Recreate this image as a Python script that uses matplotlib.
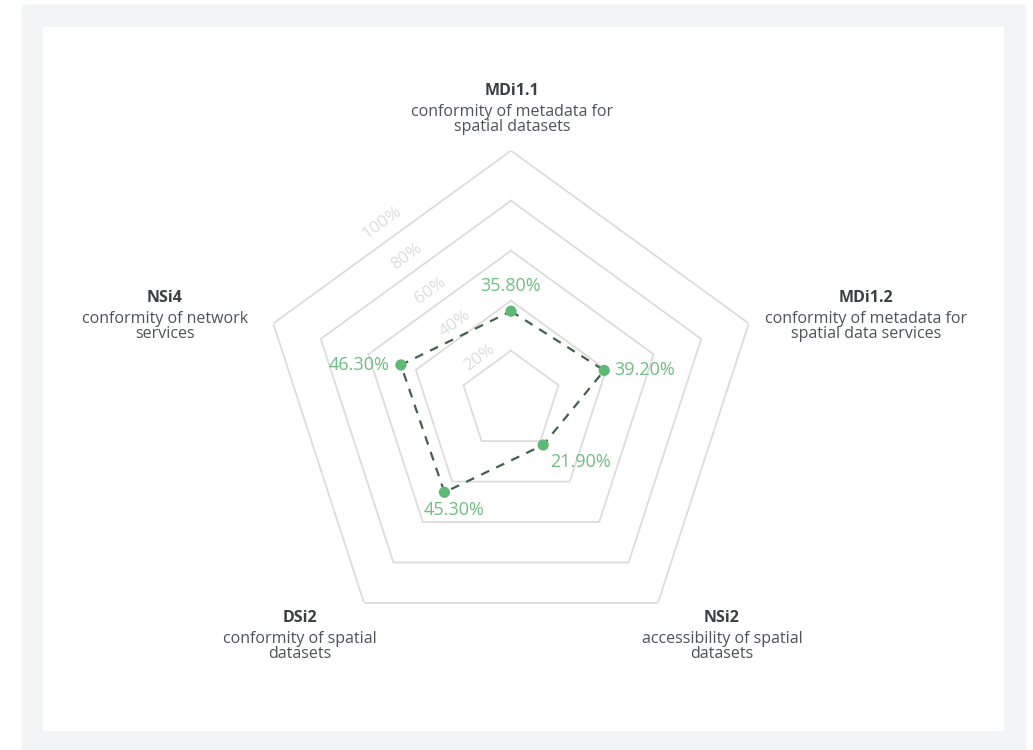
#!/usr/bin/env python3

import numpy as np
import matplotlib
matplotlib.use('Agg')
import matplotlib.pyplot as plt
from matplotlib.patches import Rectangle

plt.rcParams['font.family'] = ['Open Sans', 'DejaVu Sans']

# indicator codes, descriptions and scores (percent)
codes = ['MDi1.1', 'MDi1.2', 'NSi2', 'DSi2', 'NSi4']
descriptions = ['conformity of metadata for\nspatial datasets',
                'conformity of metadata for\nspatial data services',
                'accessibility of spatial\ndatasets',
                'conformity of spatial\ndatasets',
                'conformity of network\nservices']
scores = [35.80, 39.20, 21.90, 45.30, 46.30]
grid_levels = [20, 40, 60, 80, 100]

W, H = 1033, 750
fig = plt.figure(figsize=(W / 100, H / 100), dpi=100)
fig.patch.set_facecolor('white')

# grey frame + white card behind the chart
fig.patches.append(Rectangle((22 / W, 0), (1025 - 22) / W, (745 - 0) / H,
                             transform=fig.transFigure, color='#f3f4f6', zorder=-2))
fig.patches.append(Rectangle((43 / W, (H - 730) / H), (1003 - 43) / W, (730 - 27) / H,
                             transform=fig.transFigure, color='white', zorder=-1))

# polar axes centred on the pentagon
cx, cy, R = 511, 400.7, 250
ax = fig.add_axes([(cx - R) / W, (H - cy - R) / H, 2 * R / W, 2 * R / H],
                  projection='polar')
ax.set_zorder(2)
ax.set_theta_zero_location('N')
ax.set_theta_direction(-1)
ax.set_ylim(0, 100)
ax.patch.set_alpha(0)
ax.spines['polar'].set_visible(False)
ax.grid(False)
ax.set_xticks([])
ax.set_yticks([])

n = len(codes)
angles = np.linspace(0, 2 * np.pi, n, endpoint=False)
closed = np.concatenate([angles, angles[:1]])

# pentagon grid
for lvl in grid_levels:
    ax.plot(closed, [lvl] * (n + 1), color='#dcdcdc', lw=1.3, zorder=1)

# ring labels along the upper-left diagonal
lab_theta = -np.deg2rad(36)
for lvl in grid_levels:
    ax.text(lab_theta, lvl * 0.8325 + 4.6, f'{lvl}%', rotation=36,
            ha='center', va='center', fontsize=12.5, color='#dcdde0',
            rotation_mode='anchor', zorder=2)

# data polygon
vals = scores + scores[:1]
ax.plot(closed, vals, color='#44614f', lw=1.6, ls=(0, (4, 3.5)), zorder=3)
ax.scatter(angles, scores, s=65, color='#5db974', zorder=4, edgecolors='none')

# value labels
offsets = [((0, 18), 'center'), ((7, 0), 'left'), ((27, -12), 'center'),
           ((7, -13), 'center'), ((-8, 0), 'right')]
for a, v, (off, ha) in zip(angles, scores, offsets):
    ax.annotate(f'{v:.2f}%', (a, v), xytext=off, textcoords='offset points',
                ha=ha, va='center', fontsize=13, color='#6dbf82', zorder=5)

# axis labels (pixel positions of the label blocks)
label_pos = [(512, 91), (866, 298), (722, 618), (300, 618), (165, 298)]
for code, desc, (x, y) in zip(codes, descriptions, label_pos):
    fig.text(x / W, 1 - y / H, code, ha='center', va='center',
             fontsize=11.5, fontweight='bold', color='#3c3f45')
    fig.text(x / W, 1 - (y + 13) / H, desc, ha='center', va='top',
             fontsize=11.5, color='#4e5259', linespacing=0.9)

plt.savefig('out.png', dpi=100)
